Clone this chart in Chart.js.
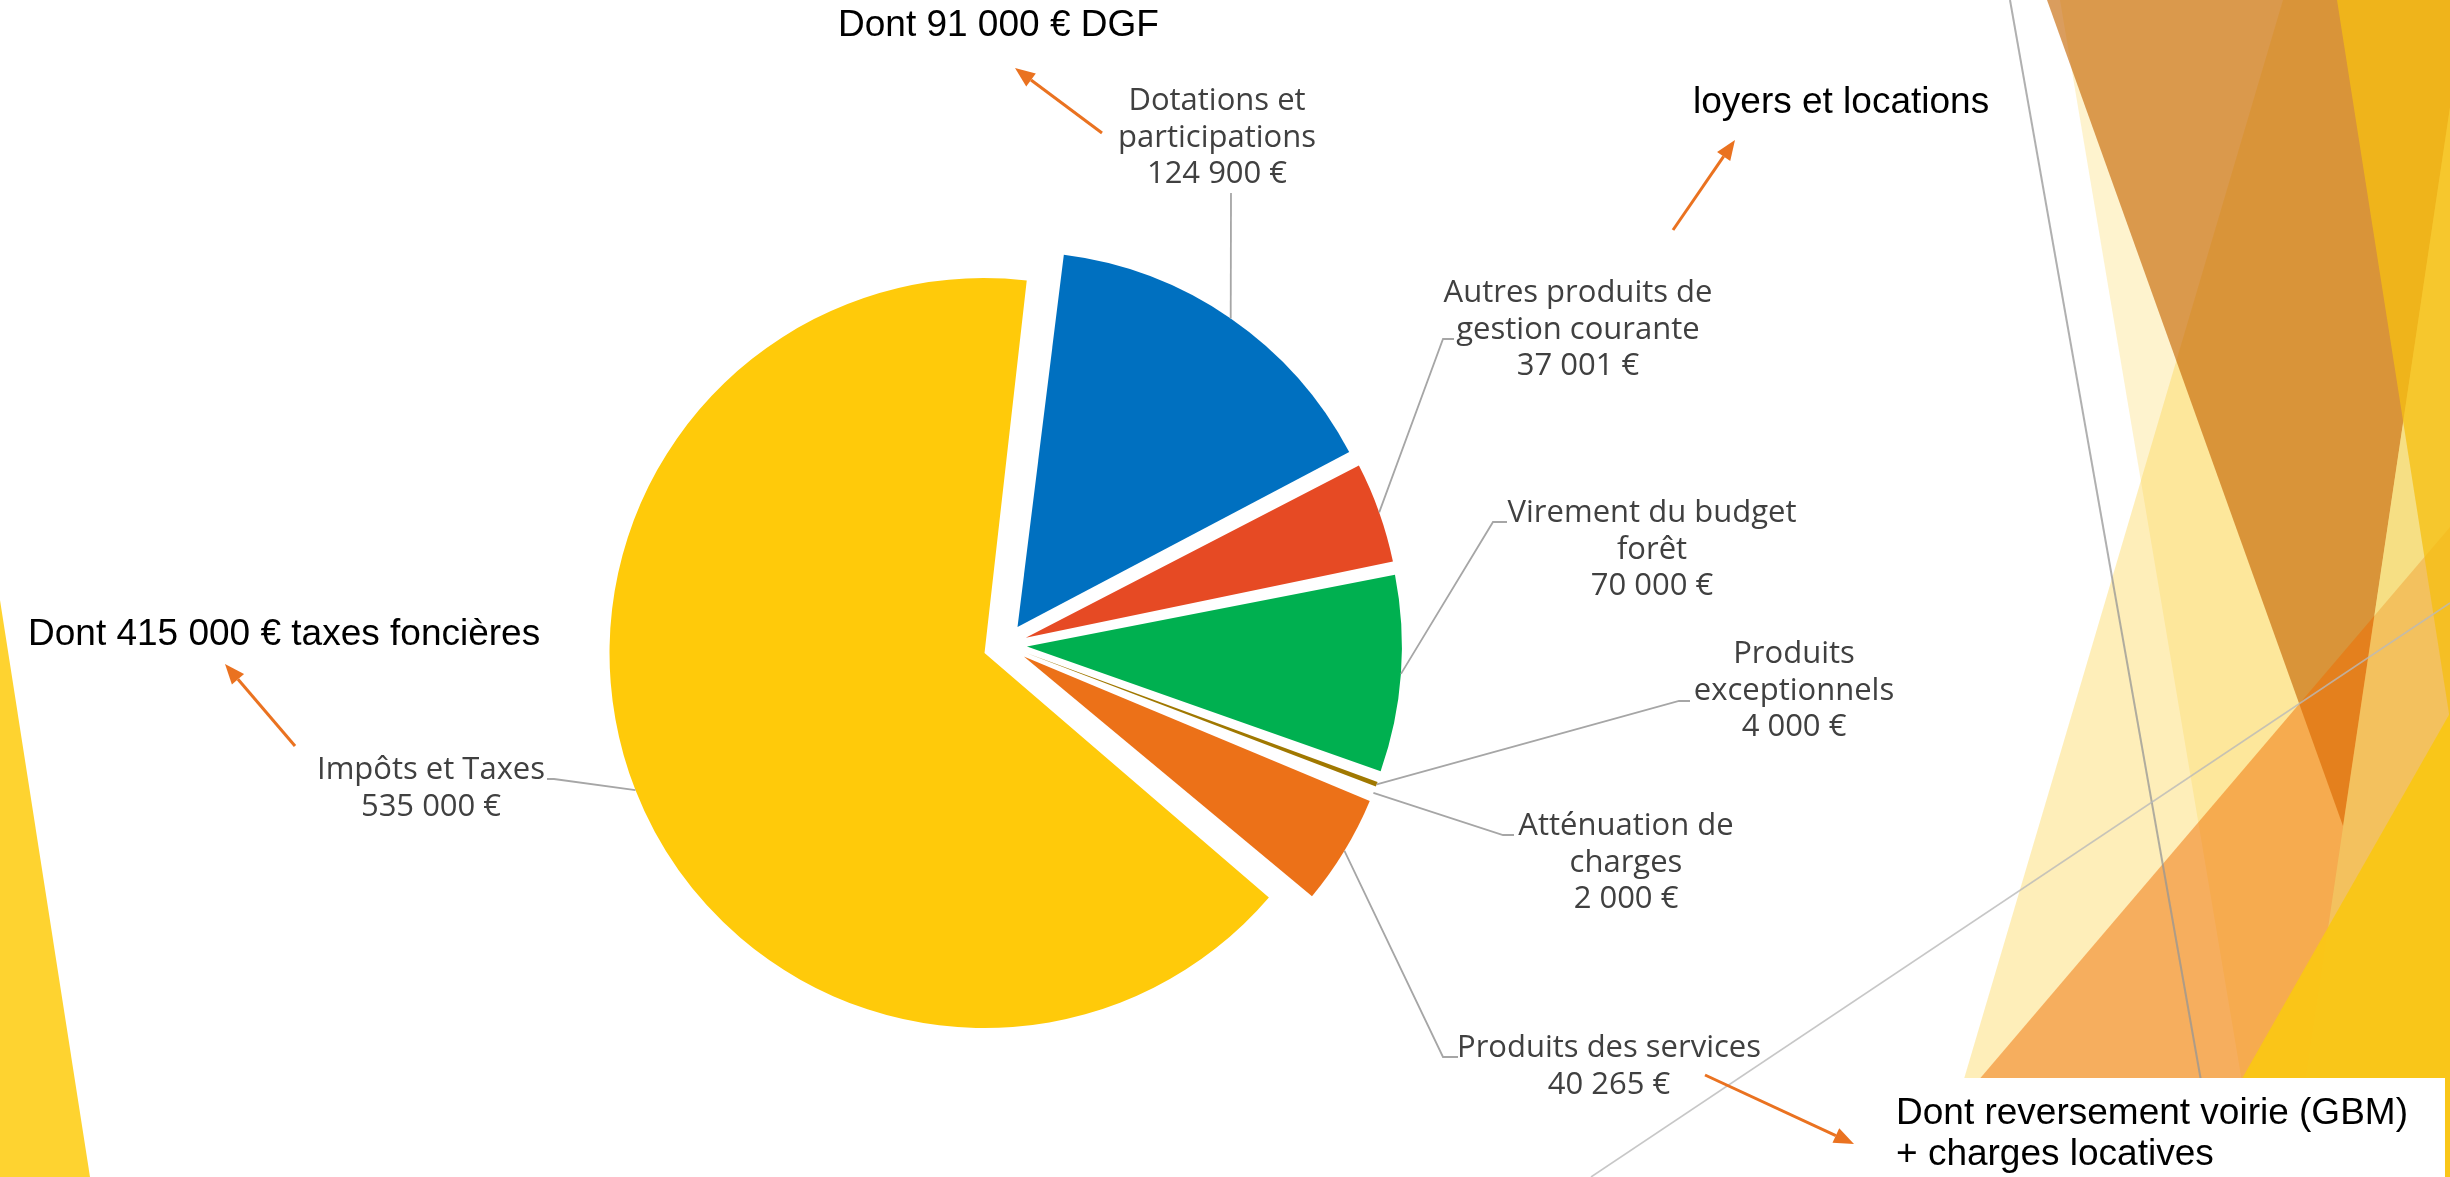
<!DOCTYPE html>
<html>
<head>
<meta charset="utf-8">
<script src="https://cdn.jsdelivr.net/npm/chart.js@4.4.1/dist/chart.umd.min.js"></script>
<style>
html,body{margin:0;padding:0;background:#fff;overflow:hidden}
#wrap{width:2450px;height:1177px;position:relative}
</style>
</head>
<body>
<div id="wrap"><canvas id="c" width="2450" height="1177"></canvas></div>
<script>
// ---------- data ----------
const categories = [
  ['Dotations et', 'participations'],
  ['Autres produits de', 'gestion courante'],
  ['Virement du budget', 'forêt'],
  ['Produits', 'exceptionnels'],
  ['Atténuation de', 'charges'],
  ['Produits des services'],
  ['Impôts et Taxes']
];
const values = [124900, 37001, 70000, 4000, 2000, 40265, 535000];
const sliceColors = ['#0070C0', '#E64A24', '#00B050', '#A07800', '#FFC000', '#EC7118', '#FFCA0A'];
const noteTexts = [
  ['Dont 91 000 € DGF'],
  ['loyers et locations'],
  ['Dont 415 000 € taxes foncières'],
  ['Dont reversement voirie (GBM)', '+ charges locatives']
];

// ---------- layout (positions / styles) ----------
const labelLayout = [
  {cx: 1217, y: 110, pts: [[1231, 193]]},
  {cx: 1578, y: 302, pts: [[1443, 339], [1454, 339]]},
  {cx: 1652, y: 522, pts: [[1493, 522], [1507, 522]]},
  {cx: 1794, y: 663, pts: [[1679, 701], [1690, 701]]},
  {cx: 1626, y: 835, pts: [[1503, 835], [1514, 835]]},
  {cx: 1609, y: 1057, pts: [[1443, 1057], [1458, 1057]]},
  {cx: 431, y: 779, pts: [[554, 779], [547, 779]]}
];
const noteLayout = [
  {x: 838, y: 36, gap: 40, arrow: [1102, 133, 1015, 68]},
  {x: 1693, y: 113, gap: 40, arrow: [1673, 230, 1735, 140]},
  {x: 28, y: 645, gap: 40, arrow: [295, 746, 225, 664]},
  {x: 1896, y: 1124, gap: 41, arrow: [1705, 1075, 1854, 1144]}
];
const LABEL_FONT = '31px "Open Sans", "DejaVu Sans", sans-serif';
const NOTE_FONT = '37px "Liberation Sans", Arial, sans-serif';
const LABEL_GAP = 36.7;

function fmtEuro(v) {
  return String(v).replace(/\B(?=(\d{3})+(?!\d))/g, ' ') + ' €';
}

// ---------- decorative background (theme facets) ----------
const bgPlugin = {
  id: 'bgFacets',
  beforeDraw(chart) {
    const ctx = chart.ctx;
    ctx.save();
    ctx.fillStyle = '#ffffff';
    ctx.fillRect(0, 0, chart.width, chart.height);
    const poly = (pts, color) => {
      ctx.beginPath();
      ctx.moveTo(pts[0][0], pts[0][1]);
      for (let i = 1; i < pts.length; i++) ctx.lineTo(pts[i][0], pts[i][1]);
      ctx.closePath();
      ctx.fillStyle = color;
      ctx.fill();
    };
    // left band
    poly([[0, 600], [90, 1177], [0, 1177]], '#FED330');
    // right facets
    poly([[2060, 0], [2258, 1177], [2450, 1177], [2450, 0]], 'rgba(252,210,75,0.27)');
    poly([[2283, 0], [1935, 1177], [2450, 1177], [2450, 0]], 'rgba(252,210,75,0.39)');
    poly([[2047, 0], [2466, 0], [2343, 826]], 'rgba(197,100,0,0.63)');
    poly([[1896, 1177], [2450, 527], [2450, 1177]], 'rgba(239,109,0,0.49)');
    poly([[2466, 0], [2291, 1177], [2450, 1177], [2450, 0]], 'rgba(240,215,110,0.5)');
    poly([[2337, 0], [2450, 0], [2450, 720]], 'rgba(246,191,18,0.76)');
    poly([[2450, 713], [2186, 1177], [2450, 1177]], 'rgba(250,199,20,0.92)');
    // thin theme lines
    ctx.lineWidth = 2;
    ctx.strokeStyle = 'rgba(150,150,150,0.75)';
    ctx.beginPath(); ctx.moveTo(2010, 0); ctx.lineTo(2218, 1177); ctx.stroke();
    ctx.lineWidth = 1.6;
    ctx.strokeStyle = 'rgba(185,185,185,0.8)';
    ctx.beginPath(); ctx.moveTo(1591, 1177); ctx.lineTo(2450, 603); ctx.stroke();
    // white text box bottom right
    ctx.fillStyle = '#ffffff';
    ctx.fillRect(1852, 1078, 593, 99);
    ctx.restore();
  }
};

// keep every exploded slice at the same visible radius
const equalRadius = {
  id: 'equalRadius',
  afterDatasetUpdate(chart, args) {
    const meta = chart.getDatasetMeta(args.index);
    const base = meta.controller.outerRadius;
    meta.data.forEach(el => {
      const off = (el.options && el.options.offset || 0) / 4;
      const fix = 1 - Math.sin(Math.min(Math.PI, el.circumference || 0));
      el.outerRadius = base - off * fix;
    });
  }
};

// labels with leader lines + annotations with arrows
const labelPlugin = {
  id: 'outerLabels',
  afterDatasetsDraw(chart) {
    const ctx = chart.ctx;
    const meta = chart.getDatasetMeta(0);
    ctx.save();
    // leader lines
    ctx.strokeStyle = '#A6A6A6';
    ctx.lineWidth = 1.8;
    meta.data.forEach((el, i) => {
      const lay = labelLayout[i];
      const mid = (el.startAngle + el.endAngle) / 2;
      const off = (el.options.offset || 0) / 4;
      const fix = 1 - Math.sin(Math.min(Math.PI, el.circumference || 0));
      const r = el.outerRadius + off * fix;
      const px = el.x + Math.cos(mid) * (off + r);
      const py = el.y + Math.sin(mid) * (off + r);
      ctx.beginPath();
      ctx.moveTo(px, py);
      lay.pts.forEach(p => ctx.lineTo(p[0], p[1]));
      ctx.stroke();
    });
    // label text
    ctx.fillStyle = '#404040';
    ctx.font = LABEL_FONT;
    ctx.textAlign = 'center';
    ctx.textBaseline = 'alphabetic';
    chart.data.labels.forEach((lab, i) => {
      const lay = labelLayout[i];
      const lines = (Array.isArray(lab) ? lab : [lab]).concat([fmtEuro(chart.data.datasets[0].data[i])]);
      lines.forEach((t, k) => ctx.fillText(t, lay.cx, lay.y + k * LABEL_GAP));
    });
    // notes
    ctx.fillStyle = '#000000';
    ctx.font = NOTE_FONT;
    ctx.textAlign = 'left';
    noteTexts.forEach((lines, i) => {
      const lay = noteLayout[i];
      lines.forEach((t, k) => ctx.fillText(t, lay.x, lay.y + k * lay.gap));
    });
    // arrows
    const ac = '#EA7220';
    noteLayout.forEach(lay => {
      const [x1, y1, x2, y2] = lay.arrow;
      const ang = Math.atan2(y2 - y1, x2 - x1);
      const L = 20, W = 8;
      const bx = x2 - Math.cos(ang) * L, by = y2 - Math.sin(ang) * L;
      ctx.strokeStyle = ac;
      ctx.lineWidth = 3;
      ctx.beginPath(); ctx.moveTo(x1, y1); ctx.lineTo(bx, by); ctx.stroke();
      ctx.fillStyle = ac;
      ctx.beginPath();
      ctx.moveTo(x2, y2);
      ctx.lineTo(bx + Math.sin(ang) * W, by - Math.cos(ang) * W);
      ctx.lineTo(bx - Math.sin(ang) * W, by + Math.cos(ang) * W);
      ctx.closePath();
      ctx.fill();
    });
    ctx.restore();
  }
};

function build() {
  new Chart(document.getElementById('c'), {
    type: 'pie',
    data: {
      labels: categories,
      datasets: [{
        data: values,
        backgroundColor: sliceColors,
        borderWidth: 0,
        offset: 88,
        hoverOffset: 0
      }]
    },
    options: {
      responsive: false,
      animation: false,
      events: [],
      rotation: 7,
      radius: 375,
      layout: {padding: {left: 586, right: 1026, top: 226, bottom: 113}},
      plugins: {
        legend: {display: false},
        tooltip: {enabled: false}
      }
    },
    plugins: [bgPlugin, equalRadius, labelPlugin]
  });
}

if (document.fonts && document.fonts.load) {
  Promise.all([
    document.fonts.load(LABEL_FONT, 'Aé€'),
    document.fonts.load(NOTE_FONT, 'Aé€')
  ]).then(build, build);
} else {
  build();
}
</script>
</body>
</html>
